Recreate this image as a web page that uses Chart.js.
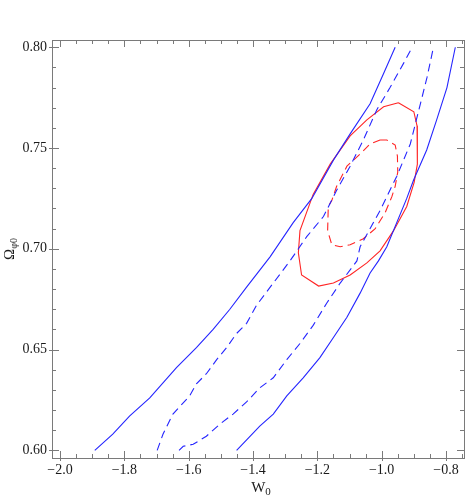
<!DOCTYPE html>
<html lang="en">
<head>
<meta charset="UTF-8">
<title>W0 - Omega contours</title>
<script src="https://cdn.jsdelivr.net/npm/chart.js"></script>
<style>
    body { margin: 0; background: #ffffff; }
    canvas { display: block; }
</style>
</head>
<body>
<canvas id="contours" width="471" height="500"></canvas>
<script>
// axis ticks
const xTicks = [-2.0, -1.8, -1.6, -1.4, -1.2, -1.0, -0.8];
const yTicks = [0.60, 0.65, 0.70, 0.75, 0.80];

// blue solid, left edge
const blueOuterLeftX = [-1.892, -1.836, -1.784, -1.721, -1.638, -1.576, -1.524, -1.472, -1.420, -1.347, -1.275, -1.217, -1.150, -1.098, -1.036, -0.994, -0.958];
const blueOuterLeftY = [0.600, 0.608, 0.617, 0.626, 0.641, 0.651, 0.660, 0.670, 0.681, 0.696, 0.713, 0.725, 0.744, 0.757, 0.772, 0.787, 0.800];

// blue solid, right edge
const blueOuterRightX = [-1.451, -1.379, -1.337, -1.295, -1.244, -1.192, -1.150, -1.108, -1.067, -1.036, -1.010, -0.984, -0.922, -0.901, -0.860, -0.829, -0.797, -0.771];
const blueOuterRightY = [0.600, 0.612, 0.618, 0.627, 0.636, 0.646, 0.656, 0.666, 0.678, 0.688, 0.694, 0.701, 0.725, 0.734, 0.749, 0.764, 0.780, 0.800];

// blue dashed, left edge
const blueInnerLeftX = [-1.698, -1.680, -1.649, -1.597, -1.576, -1.545, -1.513, -1.482, -1.451, -1.420, -1.389, -1.337, -1.285, -1.233, -1.181, -1.140, -1.098, -1.057, -1.015, -0.974, -0.932, -0.905];
const blueInnerLeftY = [0.600, 0.608, 0.618, 0.627, 0.633, 0.638, 0.645, 0.651, 0.658, 0.663, 0.672, 0.683, 0.694, 0.706, 0.716, 0.729, 0.741, 0.754, 0.769, 0.780, 0.792, 0.800];

// blue dashed, right edge
const blueInnerRightX = [-1.630, -1.617, -1.586, -1.545, -1.503, -1.462, -1.420, -1.379, -1.337, -1.295, -1.254, -1.213, -1.171, -1.129, -1.077, -1.067, -1.005, -0.953, -0.911, -0.859, -0.839];
const blueInnerRightY = [0.600, 0.602, 0.603, 0.607, 0.613, 0.618, 0.624, 0.631, 0.636, 0.645, 0.653, 0.662, 0.673, 0.683, 0.694, 0.701, 0.719, 0.736, 0.752, 0.785, 0.800];

// red solid, closed
const redOuterX = [-0.948, -0.900, -0.890, -0.889, -0.889, -0.899, -0.922, -0.963, -1.005, -1.046, -1.098, -1.150, -1.196, -1.249, -1.259, -1.254, -1.213, -1.160, -1.098, -1.046, -0.994, -0.948];
const redOuterY = [0.7725, 0.768, 0.761, 0.749, 0.742, 0.733, 0.721, 0.709, 0.699, 0.693, 0.687, 0.683, 0.6815, 0.687, 0.698, 0.709, 0.727, 0.742, 0.756, 0.764, 0.7705, 0.7725];

// red dashed, closed
const redInnerX = [-1.005, -0.984, -0.958, -0.951, -0.950, -0.958, -0.968, -0.989, -1.020, -1.057, -1.098, -1.129, -1.155, -1.168, -1.166, -1.155, -1.140, -1.108, -1.067, -1.036, -1.005];
const redInnerY = [0.754, 0.754, 0.7515, 0.746, 0.738, 0.731, 0.726, 0.718, 0.710, 0.705, 0.702, 0.701, 0.702, 0.709, 0.721, 0.724, 0.731, 0.741, 0.747, 0.752, 0.754];

const toPoints = (xs, ys) => xs.map((v, i) => ({ x: v, y: ys[i] }));

const BLUE = '#2525ff';
const RED = '#ff2525';

function curve(xs, ys, color, dashed) {
    return {
        data: toPoints(xs, ys),
        showLine: true,
        borderColor: color,
        borderWidth: 1.1,
        borderDash: dashed ? [8, 5] : [],
        pointRadius: 0,
        fill: false,
        tension: 0
    };
}

// frame with inward ticks on all sides, plus axis titles
const frameTicks = {
    id: 'frameTicks',
    afterDraw(chart) {
        const { ctx, chartArea: a, scales: { x, y } } = chart;
        ctx.save();
        ctx.strokeStyle = '#7a7a7a';
        ctx.lineWidth = 1;
        ctx.strokeRect(Math.round(a.left) + 0.5, Math.round(a.top) + 0.5,
            Math.round(a.right - a.left), Math.round(a.bottom - a.top));

        ctx.beginPath();
        const xStep = 0.05;
        for (let v = xTicks[0]; v <= x.max + 1e-9; v += xStep) {
            const major = xTicks.some(t => Math.abs(t - v) < 1e-6);
            const p = Math.round(x.getPixelForValue(v)) + 0.5;
            const len = major ? 7 : 4;
            ctx.moveTo(p, a.bottom + (major ? 3 : 0));
            ctx.lineTo(p, a.bottom - len);
            ctx.moveTo(p, a.top);
            ctx.lineTo(p, a.top + len);
        }
        const yStep = 0.01;
        for (let v = yTicks[0]; v <= y.max + 1e-9; v += yStep) {
            const major = yTicks.some(t => Math.abs(t - v) < 1e-6);
            const p = Math.round(y.getPixelForValue(v)) + 0.5;
            const len = major ? 7 : 4;
            ctx.moveTo(a.left - (major ? 3 : 0), p);
            ctx.lineTo(a.left + len, p);
            ctx.moveTo(a.right, p);
            ctx.lineTo(a.right - len, p);
        }
        ctx.stroke();

        // x title: W with subscript 0
        ctx.fillStyle = '#1a1a1a';
        ctx.textBaseline = 'alphabetic';
        ctx.font = '15px "Liberation Serif"';
        const wW = ctx.measureText('W').width;
        ctx.font = '11px "Liberation Serif"';
        const w0 = ctx.measureText('0').width;
        let cx = (a.left + a.right) / 2 - (wW + w0) / 2 + 3;
        ctx.font = '15px "Liberation Serif"';
        ctx.fillText('W', cx, 492);
        ctx.font = '11px "Liberation Serif"';
        ctx.fillText('0', cx + wW, 495);

        // y title: Omega with subscript phi0, rotated
        ctx.translate(14, (a.top + a.bottom) / 2);
        ctx.rotate(-Math.PI / 2);
        ctx.font = '15px "Liberation Serif"';
        const wO = ctx.measureText('Ω').width;
        ctx.font = '10px "Liberation Serif"';
        const wS = ctx.measureText('φ0').width;
        const sx = -(wO + wS) / 2;
        ctx.font = '15px "Liberation Serif"';
        ctx.fillText('Ω', sx, 0);
        ctx.font = '10px "Liberation Serif"';
        ctx.fillText('φ0', sx + wO, 3);
        ctx.restore();
    }
};

const fmtX = v => (v < 0 ? '\u2212' : '') + Math.abs(v).toFixed(1);
const fmtY = v => v.toFixed(2);

new Chart(document.getElementById('contours'), {
    type: 'scatter',
    data: {
        datasets: [
            curve(blueOuterLeftX, blueOuterLeftY, BLUE, false),
            curve(blueOuterRightX, blueOuterRightY, BLUE, false),
            curve(blueInnerLeftX, blueInnerLeftY, BLUE, true),
            curve(blueInnerRightX, blueInnerRightY, BLUE, true),
            curve(redOuterX, redOuterY, RED, false),
            curve(redInnerX, redInnerY, RED, true)
        ]
    },
    options: {
        responsive: false,
        devicePixelRatio: 1,
        animation: false,
        layout: { padding: { top: 40, right: 7, left: 0, bottom: 0 } },
        plugins: {
            legend: { display: false },
            tooltip: { enabled: false }
        },
        scales: {
            x: {
                type: 'linear',
                min: -2.025,
                max: -0.744,
                grid: { display: false, drawTicks: false },
                border: { display: false },
                afterBuildTicks: s => { s.ticks = xTicks.map(v => ({ value: v })); },
                afterFit: s => { s.height = 42; },
                ticks: {
                    autoSkip: false,
                    maxRotation: 0,
                    padding: 4,
                    color: '#1a1a1a',
                    font: { family: '"Liberation Serif"', size: 14 },
                    callback: v => fmtX(v)
                }
            },
            y: {
                type: 'linear',
                min: 0.5962,
                max: 0.8036,
                grid: { display: false, drawTicks: false },
                border: { display: false },
                afterBuildTicks: s => { s.ticks = yTicks.map(v => ({ value: v })); },
                afterFit: s => { s.width = 52; },
                ticks: {
                    autoSkip: false,
                    padding: 5,
                    color: '#1a1a1a',
                    font: { family: '"Liberation Serif"', size: 14 },
                    callback: v => fmtY(v)
                }
            }
        }
    },
    plugins: [frameTicks]
});
</script>
</body>
</html>
